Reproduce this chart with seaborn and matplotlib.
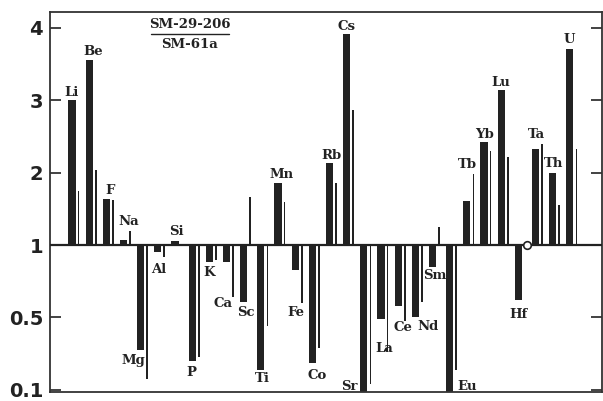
import numpy as np
import matplotlib
matplotlib.use('Agg')
import matplotlib.pyplot as plt
import seaborn as sns

# element ratios SM-29-206 / SM-61a (thick bars) and the second sample (thin bars)
elements = ['Li', 'Be', 'F', 'Na', 'Mg', 'Al', 'Si', 'P', 'K', 'Ca',
            'Sc', 'Ti', 'Mn', 'Fe', 'Co', 'Rb', 'Cs', 'Sr', 'La', 'Ce',
            'Nd', 'Sm', 'Eu', 'Tb', 'Yb', 'Lu', 'Hf', 'Ta', 'Th', 'U']
ratio_main = [3.00, 3.56, 1.63, 1.07, 0.32, 0.95, 1.05, 0.26, 0.88, 0.88,
              0.61, 0.21, 1.86, 0.83, 0.25, 2.13, 3.92, 0.08, 0.49, 0.58,
              0.50, 0.85, 0.08, 1.61, 2.42, 3.14, 0.62, 2.33, 1.99, 3.71]
ratio_second = [1.75, 2.04, 1.62, 1.20, 0.16, 0.92, 1.02, 0.28, 0.90, 0.64,
                1.67, 0.45, 1.60, 0.60, 0.33, 1.86, 2.86, 0.13, 0.31, 0.48,
                0.61, 1.25, 0.21, 1.98, 2.30, 2.21, 1.00, 2.40, 1.55, 2.33]
tick_values = [0.1, 0.5, 1, 2, 3, 4]
tick_labels = ['0.1', '0.5', '1', '2', '3', '4']

# label offsets in pixels from the bar end (dx, dy downward)
label_offsets = [(0, -8), (4, -8), (4, -9), (5, -18), (-7, 10), (1, 17), (1, -10),
                 (-1, 12), (0, 10), (-4, 41), (2, 11), (2, 9), (4, -8), (1, 43),
                 (5, 13), (2, -8), (0, -7), (-14, -6), (3, 29), (5, 22), (13, 9),
                 (2, 9), (17, -6), (1, -36), (0, -8), (0, -8), (0, 14), (1, -14),
                 (1, -10), (-1, -9)]


def forward(v):
    v = np.asarray(v, dtype=float)
    return np.where(v >= 1, v - 1,
                    np.where(v >= 0.5, (v - 1) * 2, -1 + (v - 0.5) / 0.4))


def inverse(t):
    t = np.asarray(t, dtype=float)
    return np.where(t >= 0, t + 1,
                    np.where(t >= -1, 1 + t / 2, 0.5 + 0.4 * (t + 1)))


sns.set_style('ticks')
plt.rcParams['font.family'] = ['DejaVu Sans']

fig = plt.figure(figsize=(6.03, 4.01), dpi=100)
ax = fig.add_axes([50 / 603, 9 / 401, 552 / 603, 380 / 401])
ax.set_yscale('function', functions=(forward, inverse))

bar_color = '#222222'
x = np.arange(len(elements))
main = np.array(ratio_main)
second = np.array(ratio_second)

ax.bar(x, main - 1, bottom=1, width=0.42, color=bar_color, linewidth=0)
lines = second != 1
ax.bar(x[lines] + 0.38, second[lines] - 1, bottom=1, width=0.1,
       color=bar_color, linewidth=0)
sns.scatterplot(x=x[~lines] + 0.52, y=second[~lines], ax=ax, marker='o', s=30,
                facecolor='white', edgecolor=bar_color, linewidth=1.2, zorder=4)

ax.axhline(1, color=bar_color, lw=1.6, zorder=3)

for xi, name, val, (dx, dy) in zip(x, elements, main, label_offsets):
    ax.annotate(name, (xi, max(val, 0.088)), xytext=(dx, -dy), textcoords='offset pixels',
                ha='center', va='center', fontsize=9.5, fontweight='bold',
                family='DejaVu Serif', color='#222222')

ax.set_xlim(-1.28, 30.87)
ax.set_ylim(0.088, 4.22)
ax.set_xticks([])
ax.set_yticks(tick_values)
ax.set_yticklabels(tick_labels, fontsize=14, fontweight='bold', color='#222222')
ax.tick_params(axis='y', direction='in', length=8, width=1.2, pad=5,
               left=True, right=True, colors='#222222', labelcolor='#222222')
for side in ['left', 'right', 'top', 'bottom']:
    ax.spines[side].set_visible(True)
    ax.spines[side].set_linewidth(1.3)
    ax.spines[side].set_color('#333333')

ax.text(0.253, 0.966, 'SM-29-206', transform=ax.transAxes, ha='center', va='center',
        fontsize=9.5, fontweight='bold', family='DejaVu Serif', color='#222222')
ax.text(0.253, 0.915, 'SM-61a', transform=ax.transAxes, ha='center', va='center',
        fontsize=9.5, fontweight='bold', family='DejaVu Serif', color='#222222')
ax.plot([0.183, 0.325], [0.943, 0.943], transform=ax.transAxes, color='#222222', lw=1)

fig.savefig('out.png', dpi=100)
